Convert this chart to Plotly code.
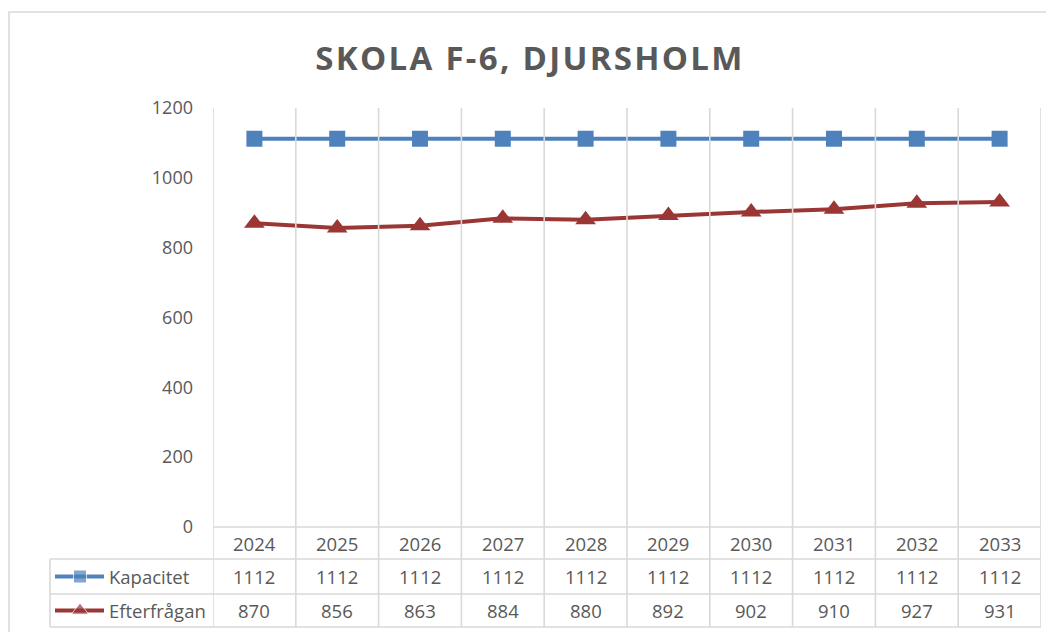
import plotly.graph_objects as go

years = ["2024", "2025", "2026", "2027", "2028", "2029", "2030", "2031", "2032", "2033"]
kapacitet = [1112, 1112, 1112, 1112, 1112, 1112, 1112, 1112, 1112, 1112]
efterfragan = [870, 856, 863, 884, 880, 892, 902, 910, 927, 931]
series_names = ["Kapacitet", "Efterfrågan"]
series_values = [kapacitet, efterfragan]
series_colors = ["#4F81BD", "#9A3735"]
series_symbols = ["square", "triangle-up"]
title_text = "SKOLA F-6, DJURSHOLM"

# page body has an 8px margin; the figure fills the rest of the 1054x632 window
OFF = 8
W, H = 1054 - OFF, 632 - OFF
TXT = "#595959"
GRID = "#D9D9D9"
FONT = "Open Sans"

# layout in window pixels
px_left, px_right = 213, 1041
px_top, px_axis = 108, 527
row_lines = [559, 594, 627]
tbl_left = 50


def py(p):
    return 1 - (p - OFF) / H


def pxx(p):
    return (p - OFF) / W


fig = go.Figure()
for name, vals, col, sym in zip(series_names, series_values, series_colors, series_symbols):
    fig.add_trace(go.Scatter(
        x=years, y=vals, name=name, mode="lines+markers",
        line=dict(color=col, width=4),
        marker=dict(symbol=sym, size=16 if sym == "square" else 18, color=col),
        cliponaxis=False, showlegend=False,
    ))

# legend icons for data table rows (pixel space overlay axes)
row_centers = [(row_lines[0] + row_lines[1]) / 2, (row_lines[1] + row_lines[2]) / 2]
for name, col, sym, yc in zip(series_names, series_colors, series_symbols, row_centers):
    fig.add_trace(go.Scatter(
        x=[55 - OFF, 80 - OFF, 104 - OFF], y=[yc - OFF] * 3, mode="lines+markers",
        line=dict(color=col, width=4),
        marker=dict(symbol=sym, size=[0, 13 if sym == "square" else 15, 0], color=col),
        xaxis="x2", yaxis="y2", showlegend=False, hoverinfo="skip", cliponaxis=False,
    ))

shapes = []
# vertical gridlines through plot + table
for i in range(len(years) + 1):
    shapes.append(dict(type="line", xref="x", yref="paper", x0=i - 0.5, x1=i - 0.5,
                       y0=py(px_top), y1=py(row_lines[-1]), line=dict(color=GRID, width=1.6)))
# horizontal axis line
shapes.append(dict(type="line", xref="paper", yref="paper", x0=pxx(px_left), x1=pxx(px_right),
                   y0=py(px_axis), y1=py(px_axis), line=dict(color=GRID, width=1.6)))
for r in row_lines:
    shapes.append(dict(type="line", xref="paper", yref="paper", x0=pxx(tbl_left), x1=pxx(px_right),
                       y0=py(r), y1=py(r), line=dict(color=GRID, width=1.6)))
shapes.append(dict(type="line", xref="paper", yref="paper", x0=pxx(tbl_left), x1=pxx(tbl_left),
                   y0=py(row_lines[0]), y1=py(row_lines[-1]), line=dict(color=GRID, width=1.6)))
# outer chart frame
shapes.append(dict(type="rect", xref="paper", yref="paper", x0=pxx(9), x1=pxx(1070),
                   y0=py(660), y1=py(12), line=dict(color="#D9D9D9", width=1.6)))

TF = dict(family=FONT, size=18.5, color=TXT)
annotations = []
# year header row
for i, yr in enumerate(years):
    annotations.append(dict(x=i, xref="x", y=py((px_axis + row_lines[0]) / 2), yref="paper",
                            text=yr, showarrow=False, font=TF,
                            xanchor="center", yanchor="middle"))
for name, vals, yc in zip(series_names, series_values, row_centers):
    annotations.append(dict(x=pxx(107), xref="paper", y=py(yc), yref="paper", text=name,
                            showarrow=False, font=TF, xanchor="left", yanchor="middle"))
    for i, v in enumerate(vals):
        annotations.append(dict(x=i, xref="x", y=py(yc), yref="paper", text=str(v),
                                showarrow=False, font=TF, xanchor="center", yanchor="middle"))

fig.update_layout(
    template="none",
    width=W, height=H,
    margin=dict(l=0, r=0, t=0, b=0, pad=0, autoexpand=False),
    paper_bgcolor="white", plot_bgcolor="rgba(0,0,0,0)",
    title=dict(text='<span style="letter-spacing:2.3px">' + title_text + '</span>',
               x=pxx(530), xanchor="center", y=py(58), yanchor="middle",
               font=dict(family=FONT, size=33, color=TXT, weight="bold")),
    xaxis=dict(domain=[pxx(px_left), pxx(px_right)], type="category", showticklabels=False,
               showgrid=False, zeroline=False, showline=False, ticks="", automargin=False,
               range=[-0.5, len(years) - 0.5]),
    yaxis=dict(domain=[py(px_axis), py(px_top)], range=[0, 1200], dtick=200, showgrid=False,
               zeroline=False, showline=False, ticks="", ticklabelstandoff=19, automargin=False,
               tickfont=dict(family=FONT, size=18, color=TXT)),
    xaxis2=dict(domain=[0, 1], range=[0, W], visible=False, anchor="y2", fixedrange=True,
                automargin=False),
    yaxis2=dict(domain=[0, 1], range=[H, 0], visible=False, anchor="x2", fixedrange=True,
                automargin=False),
    shapes=shapes, annotations=annotations,
    showlegend=False,
)

fig.write_html("out.html")
